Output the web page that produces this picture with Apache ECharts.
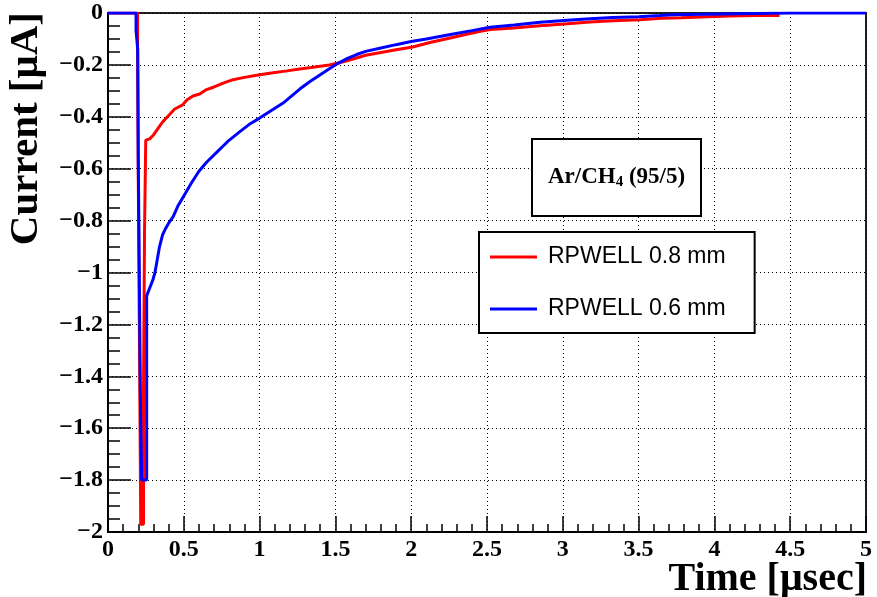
<!DOCTYPE html>
<html>
<head>
<meta charset="utf-8">
<script src="https://cdn.jsdelivr.net/npm/echarts@6/dist/echarts.min.js"></script>
<style>
  html, body { margin: 0; padding: 0; background: #fff; }
  #chart { width: 877px; height: 597px; }
</style>
</head>
<body>
<div id="chart"></div>
<script>
// Signal current versus time for two RPWELL gap thicknesses in Ar/CH4 (95/5).
// Time in µs, current in µA. The fast spike is given as histogram steps
// (repeated times make the vertical edges), the slow tail as sampled points.

const seriesNames = ['RPWELL 0.8 mm', 'RPWELL 0.6 mm'];

const timeRed = [
  0, 0.195, 0.195, 0.200, 0.200, 0.208, 0.208, 0.216, 0.216, 0.234, 0.234, 0.241, 0.241, 0.249, 0.249,
  0.275, 0.300, 0.330, 0.360, 0.400, 0.440, 0.490, 0.520, 0.560, 0.605,
  0.650, 0.700, 0.760, 0.825, 0.900, 1.000, 1.090, 1.180, 1.265, 1.340,
  1.400, 1.460, 1.520, 1.600, 1.700, 1.800, 1.900, 2.010, 2.130, 2.250,
  2.380, 2.450, 2.520, 2.600, 2.675, 2.850, 3.030, 3.180, 3.330, 3.510,
  3.650, 3.780, 3.960, 4.100, 4.270, 4.430
];
const currentRed = [
  0, 0, -0.133, -0.133, -0.652, -0.652, -1.317, -1.317, -1.97, -1.97, -1.477, -1.477, -0.838, -0.838, -0.49,
  -0.485, -0.47, -0.445, -0.42, -0.395, -0.37, -0.355, -0.335, -0.32, -0.312,
  -0.295, -0.285, -0.27, -0.257, -0.248, -0.238, -0.23, -0.223, -0.216, -0.21,
  -0.205, -0.2, -0.193, -0.18, -0.163, -0.152, -0.142, -0.131, -0.113, -0.097,
  -0.08, -0.071, -0.064, -0.061, -0.058, -0.049, -0.041, -0.035, -0.03, -0.026,
  -0.02, -0.018, -0.014, -0.012, -0.01, -0.01
];

const timeBlue = [
  0, 0.185, 0.185, 0.196, 0.196, 0.200, 0.200, 0.207, 0.207, 0.214, 0.214, 0.222, 0.222, 0.255, 0.255,
  0.275, 0.295, 0.310, 0.325, 0.340, 0.360, 0.380, 0.400, 0.430, 0.460,
  0.500, 0.550, 0.600, 0.650, 0.720, 0.790, 0.870, 0.930, 1.000, 1.080,
  1.155, 1.210, 1.265, 1.330, 1.400, 1.460, 1.520, 1.580, 1.640, 1.700,
  1.800, 1.900, 2.000, 2.100, 2.250, 2.400, 2.520, 2.680, 2.850, 3.030,
  3.180, 3.330, 3.500, 3.640, 3.720, 4.260, 4.500, 5.000
];
const currentBlue = [
  0, 0, -0.068, -0.068, -0.14, -0.14, -0.585, -0.585, -1.04, -1.04, -1.49, -1.49, -1.8, -1.8, -1.09,
  -1.06, -1.03, -1.0, -0.95, -0.9, -0.855, -0.83, -0.81, -0.785, -0.745,
  -0.705, -0.655, -0.61, -0.575, -0.535, -0.495, -0.457, -0.43, -0.405, -0.375,
  -0.347, -0.32, -0.293, -0.265, -0.238, -0.215, -0.193, -0.175, -0.16, -0.148,
  -0.135, -0.122, -0.11, -0.1, -0.084, -0.068, -0.055, -0.046, -0.036, -0.028,
  -0.022, -0.017, -0.014, -0.01, -0.007, -0.002, 0, 0
];

const pairs = (xs, ys) => xs.map((x, i) => [x, ys[i]]);

const serifBold = { fontFamily: 'Liberation Serif', fontWeight: 'bold', color: '#000' };

const chart = echarts.init(document.getElementById('chart'), null, { renderer: 'canvas' });

chart.setOption({
  animation: false,
  backgroundColor: '#fff',
  grid: {
    left: 108, right: 11, top: 13, bottom: 65,
    show: true, borderColor: '#222', borderWidth: 2, backgroundColor: 'transparent'
  },
  xAxis: {
    type: 'value', min: 0, max: 5, interval: 0.5,
    axisLine: { show: true, onZero: false, lineStyle: { color: '#000', width: 2 } },
    axisTick: { show: true, inside: true, length: 16, lineStyle: { color: '#000', width: 1.5 } },
    minorTick: { show: true, splitNumber: 5, length: 8, lineStyle: { color: '#000', width: 1.5 } },
    splitLine: { show: true, lineStyle: { color: '#000', width: 1, type: [1, 3] } },
    axisLabel: { ...serifBold, fontSize: 24, margin: 6, showMinLabel: true, showMaxLabel: true }
  },
  yAxis: {
    type: 'value', min: -2, max: 0, interval: 0.2,
    axisLine: { show: true, onZero: false, lineStyle: { color: '#000', width: 2 } },
    axisTick: { show: true, inside: true, length: 23, lineStyle: { color: '#000', width: 1.5 } },
    minorTick: { show: true, splitNumber: 4, length: 12, lineStyle: { color: '#000', width: 1.5 } },
    splitLine: { show: true, lineStyle: { color: '#000', width: 1, type: [1, 3] } },
    axisLabel: {
      ...serifBold, fontSize: 24, margin: 5,
      formatter: v => (Math.abs(v) < 1e-9 ? '0' : '\u2212' + parseFloat(Math.abs(v).toFixed(1)))
    }
  },
  legend: {
    orient: 'vertical', left: 479, top: 232,
    data: seriesNames,
    icon: 'rect', itemWidth: 47, itemHeight: 3, itemGap: 26,
    padding: [12, 29, 11, 11],
    borderColor: '#000', borderWidth: 2, backgroundColor: '#fff',
    textStyle: { fontFamily: 'Liberation Sans', fontSize: 23, color: '#000', lineHeight: 26, padding: [0, 0, 0, 6] }
  },
  title: {
    text: '{a|Ar/CH}{s|4}{a| (95/5)}',
    left: 532, top: 138,
    padding: [26, 16, 26, 16],
    borderColor: '#000', borderWidth: 2, backgroundColor: '#fff',
    textStyle: {
      rich: {
        a: { ...serifBold, fontSize: 23, lineHeight: 26 },
        s: { ...serifBold, fontSize: 15, lineHeight: 26, verticalAlign: 'bottom', padding: [10, 0, 0, 0] }
      }
    }
  },
  graphic: [
    {
      type: 'text', x: 26, y: 12, rotation: Math.PI / 2,
      style: { text: 'Current [\u03bcA]', font: 'bold 41px "Liberation Serif"', fill: '#000', align: 'right', verticalAlign: 'middle' }
    },
    {
      type: 'text', x: 867, y: 580,
      style: { text: 'Time [\u03bcsec]', font: 'bold 40px "Liberation Serif"', fill: '#000', align: 'right', verticalAlign: 'middle' }
    }
  ],
  series: [
    {
      name: seriesNames[0], type: 'line', showSymbol: false,
      data: pairs(timeRed, currentRed),
      lineStyle: { color: '#ff0000', width: 3 }, itemStyle: { color: '#ff0000' }
    },
    {
      name: seriesNames[1], type: 'line', showSymbol: false,
      data: pairs(timeBlue, currentBlue),
      lineStyle: { color: '#0000ff', width: 3 }, itemStyle: { color: '#0000ff' }
    }
  ]
});
</script>
</body>
</html>
